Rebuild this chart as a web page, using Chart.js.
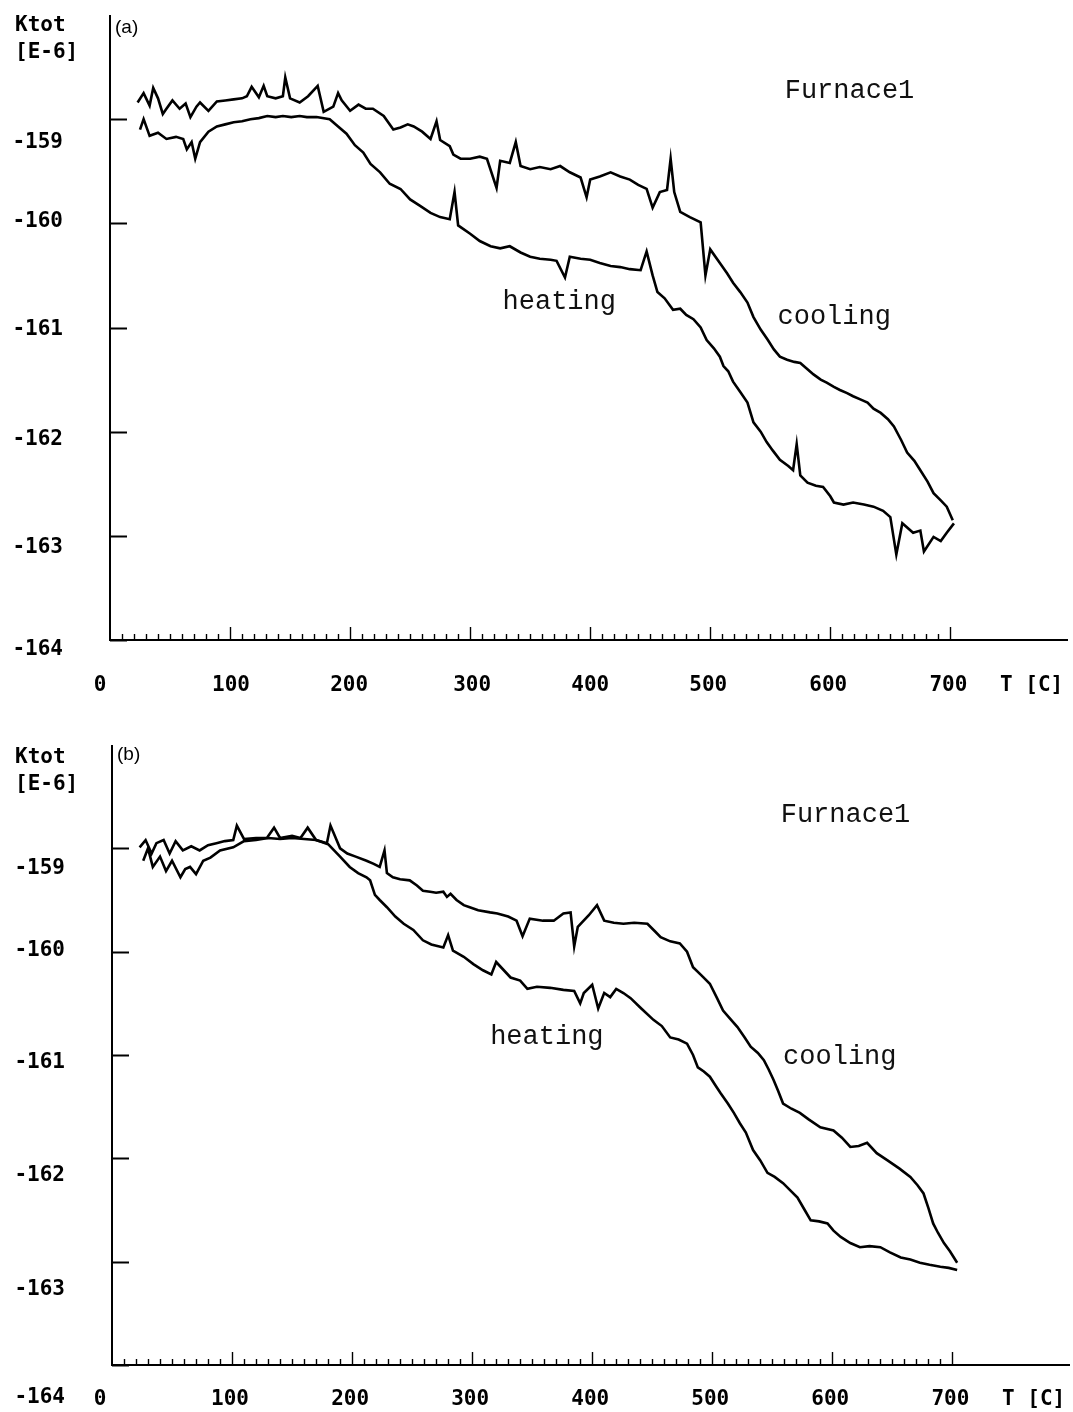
<!DOCTYPE html>
<html><head><meta charset="utf-8">
<script src="https://cdn.jsdelivr.net/npm/chart.js@4/dist/chart.umd.min.js"></script>
<style>
html,body{margin:0;padding:0;background:#fff;}
#wrap{position:relative;width:1073px;height:1412px;background:#fff;}
.pane{position:absolute;left:0;width:1073px;height:706px;}
</style></head><body>
<div id="wrap">
<div class="pane" style="top:0"><canvas id="ca"></canvas></div>
<div class="pane" style="top:706px"><canvas id="cb"></canvas></div>
</div>
<script>
// ---------- tick labels ----------
const xTickValues = [0,100,200,300,400,500,600,700];
const xTickLabels = ["0","100","200","300","400","500","600","700"];
const yTickValues = [-159,-160,-161,-162,-163,-164];
const yTickLabels = ["-159","-160","-161","-162","-163","-164"];
const xUnitLabel = "T [C]";
const yUnitLabel1 = "Ktot";
const yUnitLabel2 = "[E-6]";

// ---------- panel (a) ----------
const heatA_T = [25,28,33,40,47,55,61,64,68,71,75,82,89,96,103,110,117,124,131,138,144,151,158,164,172,183,190,197,204,211,217,225,233,242,250,258,267,275,283,287,290,300,308,317,325,333,342,350,358,367,372,379,383,392,400,408,417,425,433,442,447,452,456,462,469,475,480,486,492,497,503,508,511,515,519,525,531,536,542,547,552,558,565,569,572,575,581,588,594,600,603,611,619,628,636,644,650,655,660,669,675,678,686,692,697,703];
const heatA_V = [-159.10,-159.00,-159.16,-159.13,-159.19,-159.17,-159.19,-159.29,-159.22,-159.38,-159.22,-159.12,-159.07,-159.05,-159.03,-159.02,-159.00,-158.99,-158.97,-158.98,-158.97,-158.98,-158.97,-158.98,-158.98,-159.00,-159.07,-159.14,-159.25,-159.32,-159.43,-159.51,-159.62,-159.67,-159.77,-159.83,-159.90,-159.94,-159.96,-159.70,-160.02,-160.10,-160.17,-160.22,-160.24,-160.22,-160.28,-160.32,-160.34,-160.35,-160.36,-160.52,-160.32,-160.34,-160.35,-160.38,-160.41,-160.42,-160.44,-160.45,-160.27,-160.50,-160.66,-160.72,-160.83,-160.82,-160.88,-160.92,-161.00,-161.12,-161.20,-161.28,-161.37,-161.42,-161.52,-161.62,-161.72,-161.91,-162.00,-162.10,-162.18,-162.27,-162.33,-162.37,-162.12,-162.42,-162.49,-162.52,-162.53,-162.62,-162.68,-162.70,-162.68,-162.70,-162.72,-162.76,-162.82,-163.18,-162.88,-162.97,-162.95,-163.15,-163.01,-163.05,-162.97,-162.88];
const coolA_T = [23,28,33,36,40,44,47,52,58,63,67,72,75,82,89,96,103,110,114,118,124,128,131,138,144,146,150,158,165,173,178,186,190,193,200,207,213,219,228,236,242,248,253,260,267,272,275,283,286,292,300,308,314,322,325,333,338,342,350,358,367,375,383,392,397,400,408,417,425,433,440,447,452,458,464,467,470,475,483,492,496,500,508,514,519,525,531,536,542,548,553,558,564,570,575,581,586,592,597,603,608,614,619,625,631,636,642,648,653,659,664,670,675,681,686,692,697,702];
const coolA_V = [-158.84,-158.75,-158.87,-158.70,-158.80,-158.95,-158.90,-158.82,-158.90,-158.85,-158.98,-158.88,-158.84,-158.92,-158.83,-158.82,-158.81,-158.80,-158.78,-158.69,-158.79,-158.68,-158.78,-158.80,-158.78,-158.60,-158.80,-158.84,-158.78,-158.68,-158.93,-158.88,-158.75,-158.82,-158.92,-158.86,-158.90,-158.90,-158.97,-159.10,-159.08,-159.05,-159.07,-159.12,-159.19,-159.02,-159.20,-159.26,-159.34,-159.38,-159.38,-159.36,-159.38,-159.66,-159.40,-159.42,-159.22,-159.45,-159.48,-159.46,-159.48,-159.45,-159.51,-159.56,-159.75,-159.58,-159.55,-159.51,-159.55,-159.58,-159.63,-159.67,-159.85,-159.70,-159.68,-159.38,-159.70,-159.89,-159.94,-159.99,-160.50,-160.25,-160.38,-160.48,-160.57,-160.66,-160.76,-160.90,-161.02,-161.12,-161.21,-161.28,-161.31,-161.33,-161.34,-161.40,-161.45,-161.50,-161.53,-161.57,-161.60,-161.63,-161.66,-161.69,-161.72,-161.78,-161.82,-161.88,-161.95,-162.08,-162.20,-162.28,-162.37,-162.48,-162.59,-162.66,-162.72,-162.85];

// ---------- panel (b) ----------
const heatB_T = [26,30,34,40,45,50,57,61,65,70,76,82,90,101,110,120,130,140,150,160,170,180,190,198,205,212,215,219,223,229,236,243,251,259,266,276,280,284,293,301,309,316,320,332,340,346,354,365,376,385,390,393,400,405,410,415,420,426,432,440,451,458,465,472,479,484,488,493,498,503,507,513,518,523,528,534,540,546,552,559,565,571,577,582,589,596,601,607,615,623,631,640,648,657,665,673,681,690,697,704];
const heatB_V = [-159.12,-159.00,-159.18,-159.08,-159.22,-159.12,-159.28,-159.20,-159.18,-159.25,-159.12,-159.09,-159.02,-158.99,-158.93,-158.92,-158.90,-158.91,-158.90,-158.91,-158.92,-158.96,-159.08,-159.18,-159.24,-159.28,-159.31,-159.45,-159.50,-159.57,-159.66,-159.73,-159.79,-159.89,-159.93,-159.96,-159.84,-159.99,-160.05,-160.12,-160.18,-160.22,-160.10,-160.25,-160.28,-160.36,-160.34,-160.35,-160.37,-160.38,-160.50,-160.40,-160.32,-160.55,-160.40,-160.44,-160.36,-160.40,-160.45,-160.54,-160.66,-160.72,-160.83,-160.85,-160.89,-161.00,-161.12,-161.16,-161.21,-161.30,-161.37,-161.47,-161.56,-161.66,-161.75,-161.92,-162.02,-162.14,-162.18,-162.24,-162.31,-162.38,-162.50,-162.60,-162.61,-162.63,-162.70,-162.76,-162.82,-162.86,-162.85,-162.86,-162.91,-162.96,-162.98,-163.01,-163.03,-163.05,-163.06,-163.08];
const coolB_T = [23,28,33,37,43,48,53,59,66,73,80,87,94,101,104,110,120,129,135,140,150,157,163,170,179,182,190,196,203,212,218,223,227,229,234,240,248,254,259,265,270,276,279,282,287,293,298,305,315,321,330,337,342,348,359,368,376,382,385,388,397,404,410,418,426,435,446,452,457,465,473,479,484,491,498,504,509,515,521,527,532,538,543,547,551,555,559,566,573,580,590,601,608,615,622,629,637,646,656,665,671,676,680,684,688,693,698,704];
const coolB_V = [-158.99,-158.92,-159.05,-158.95,-158.92,-159.05,-158.93,-159.02,-158.98,-159.02,-158.97,-158.95,-158.93,-158.92,-158.78,-158.91,-158.90,-158.90,-158.80,-158.90,-158.88,-158.90,-158.80,-158.92,-158.95,-158.78,-159.00,-159.05,-159.08,-159.12,-159.15,-159.18,-159.02,-159.24,-159.28,-159.30,-159.31,-159.36,-159.41,-159.42,-159.43,-159.42,-159.47,-159.44,-159.50,-159.55,-159.57,-159.60,-159.62,-159.63,-159.66,-159.70,-159.85,-159.68,-159.70,-159.70,-159.63,-159.62,-159.95,-159.76,-159.65,-159.55,-159.70,-159.72,-159.73,-159.72,-159.73,-159.80,-159.86,-159.90,-159.92,-160.00,-160.15,-160.23,-160.31,-160.45,-160.57,-160.65,-160.73,-160.83,-160.92,-160.98,-161.05,-161.14,-161.24,-161.35,-161.47,-161.52,-161.56,-161.62,-161.70,-161.73,-161.80,-161.89,-161.88,-161.85,-161.95,-162.02,-162.10,-162.18,-162.26,-162.34,-162.48,-162.63,-162.72,-162.82,-162.90,-163.01];

// ---------- annotations (data coordinates) ----------
const notesA = [
  {text:"Furnace1", T:562, V:-158.73},
  {text:"heating",  T:327, V:-160.75},
  {text:"cooling",  T:556, V:-160.90}
];
const notesB = [
  {text:"Furnace1", T:557, V:-158.68},
  {text:"heating",  T:315, V:-160.82},
  {text:"cooling",  T:559, V:-161.02}
];

const pts = (T,V) => T.map((t,i)=>({x:t, y:V[i]}));

const TICK_FONT = 'bold 21px "DejaVu Sans Mono", monospace';
const NOTE_FONT = '27px "Liberation Mono", "Courier New", monospace';

const axesPlugin = {
  id: 'paperAxes',
  afterDatasetsDraw(chart) {
    const o = chart.options.plugins.paperAxes;
    const {ctx, chartArea:a, scales:{x, y}} = chart;
    ctx.save();
    ctx.strokeStyle = '#000'; ctx.fillStyle = '#000';
    ctx.lineWidth = 2;
    ctx.beginPath();
    ctx.moveTo(a.left, a.top); ctx.lineTo(a.left, a.bottom); ctx.lineTo(a.right, a.bottom);
    ctx.stroke();
    yTickValues.forEach(v => {
      const py = Math.round(y.getPixelForValue(v)) + 0.5;
      ctx.beginPath(); ctx.moveTo(a.left, py); ctx.lineTo(a.left + 17, py); ctx.stroke();
    });
    ctx.lineWidth = 1.4;
    for (let t = 10; t <= 700; t += 10) {
      const px = Math.round(x.getPixelForValue(t)) + 0.5;
      const len = (t % 100 === 0) ? 13 : 6;
      ctx.beginPath(); ctx.moveTo(px, a.bottom); ctx.lineTo(px, a.bottom - len); ctx.stroke();
    }
    ctx.font = TICK_FONT; ctx.textAlign = 'right'; ctx.textBaseline = 'middle';
    yTickValues.forEach((v, i) => {
      ctx.fillText(yTickLabels[i], a.left - 47, y.getPixelForValue(v) + o.yNudge[i]);
    });
    ctx.textAlign = 'center';
    xTickValues.forEach((t, i) => {
      ctx.fillText(xTickLabels[i], x.getPixelForValue(t) + o.xNudge[i], a.bottom + o.xLabelGap);
    });
    ctx.textAlign = 'left';
    ctx.fillText(xUnitLabel, a.right - 68, a.bottom + o.xLabelGap);
    ctx.fillText(yUnitLabel1, 15, a.top + o.unitDy);
    ctx.fillText(yUnitLabel2, 15, a.top + o.unitDy + 27);
    ctx.font = '19px "Liberation Sans", Arial, sans-serif';
    ctx.fillText(o.tag, a.left + 5, a.top + o.tagDy);
    ctx.font = NOTE_FONT; ctx.fillStyle = '#111';
    o.notes.forEach(n => {
      ctx.fillText(n.text, x.getPixelForValue(n.T), y.getPixelForValue(n.V));
    });
    ctx.restore();
  }
};

function makeChart(id, heatT, heatV, coolT, coolV, pad, extra) {
  return new Chart(document.getElementById(id), {
    type: 'scatter',
    data: {
      datasets: [
        {label:'heating', data: pts(heatT, heatV), showLine:true, borderColor:'#000', borderWidth:2.6, pointRadius:0, tension:0},
        {label:'cooling', data: pts(coolT, coolV), showLine:true, borderColor:'#000', borderWidth:2.6, pointRadius:0, tension:0}
      ]
    },
    options: {
      responsive: true, maintainAspectRatio: false, animation: false, devicePixelRatio: 1,
      layout: {padding: pad},
      scales: {
        x: {type:'linear', min:0, max:798, display:false},
        y: {type:'linear', min:-164, max:-158, display:false}
      },
      plugins: {legend:{display:false}, tooltip:{enabled:false}, paperAxes: extra}
    },
    plugins: [axesPlugin]
  });
}

makeChart('ca', heatA_T, heatA_V, coolA_T, coolA_V,
  {left:110, right:5, top:15, bottom:66},
  {tag:'(a)', tagDy:13, unitDy:11, xLabelGap:46, yNudge:[23,-2,2,8,12,10], xNudge:[-10,1,-1,2,0,-2,-2,-2], notes:notesA});
makeChart('cb', heatB_T, heatB_V, coolB_T, coolB_V,
  {left:112, right:3, top:39, bottom:47},
  {tag:'(b)', tagDy:10, unitDy:13, xLabelGap:35, yNudge:[20,-1,8,17,28,33], xNudge:[-12,-2,-2,-2,-2,-2,-2,-2], notes:notesB});
</script>
</body></html>
